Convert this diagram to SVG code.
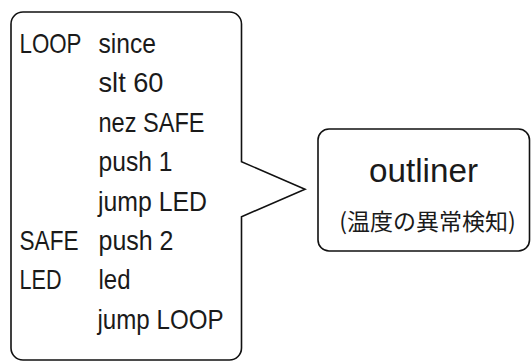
<svg xmlns="http://www.w3.org/2000/svg" width="531" height="363" viewBox="0 0 531 363">
  <style>
    .shape { fill: #ffffff; stroke: #111111; stroke-width: 1.6; stroke-linejoin: miter; }
    .code { font-family: "Liberation Sans", Arial, sans-serif; font-size: 28px; fill: #1a1a1a; }
    .title { font-family: "Liberation Sans", Arial, sans-serif; font-size: 34px; fill: #1a1a1a; }
    .note { font-family: "Noto Sans CJK JP", sans-serif; font-size: 23px; fill: #1a1a1a; text-anchor: middle; }
  </style>
  <rect x="0" y="0" width="531" height="363" fill="#ffffff"/>

  <!-- program listing in a speech-bubble callout pointing right -->
  <g id="program">
    <path class="shape" d="M 23 12 H 229.5 A 12 12 0 0 1 241.5 24 V 161.7 L 305 189.3 L 241.5 216.7 V 348 A 12 12 0 0 1 229.5 360 H 23 A 12 12 0 0 1 11 348 V 24 A 12 12 0 0 1 23 12 Z"/>
    <g class="code">
      <text x="19.5" y="53" textLength="62" lengthAdjust="spacingAndGlyphs">LOOP</text>
      <text x="98.5" y="53" textLength="57.5" lengthAdjust="spacingAndGlyphs">since</text>
      <text x="98.5" y="92.4" textLength="65" lengthAdjust="spacingAndGlyphs">slt 60</text>
      <text x="98.5" y="131.8" textLength="106" lengthAdjust="spacingAndGlyphs">nez SAFE</text>
      <text x="98.5" y="171.2" textLength="74" lengthAdjust="spacingAndGlyphs">push 1</text>
      <text x="98" y="210.6" textLength="109" lengthAdjust="spacingAndGlyphs">jump LED</text>
      <text x="19.5" y="250" textLength="59" lengthAdjust="spacingAndGlyphs">SAFE</text>
      <text x="98.5" y="250" textLength="75" lengthAdjust="spacingAndGlyphs">push 2</text>
      <text x="19.5" y="289.4" textLength="42" lengthAdjust="spacingAndGlyphs">LED</text>
      <text x="98.5" y="289.4" textLength="32" lengthAdjust="spacingAndGlyphs">led</text>
      <text x="97.5" y="328.8" textLength="126" lengthAdjust="spacingAndGlyphs">jump LOOP</text>
    </g>
  </g>

  <!-- detector node -->
  <g id="outliner">
    <rect class="shape" x="318" y="129" width="211.5" height="122" rx="11" ry="11"/>
    <text class="title" x="369" y="181.7" textLength="109" lengthAdjust="spacingAndGlyphs">outliner</text>
    <text class="note" x="427.5" y="229.5">(温度の異常検知)</text>
  </g>

  <g id="connectors"></g>
</svg>
